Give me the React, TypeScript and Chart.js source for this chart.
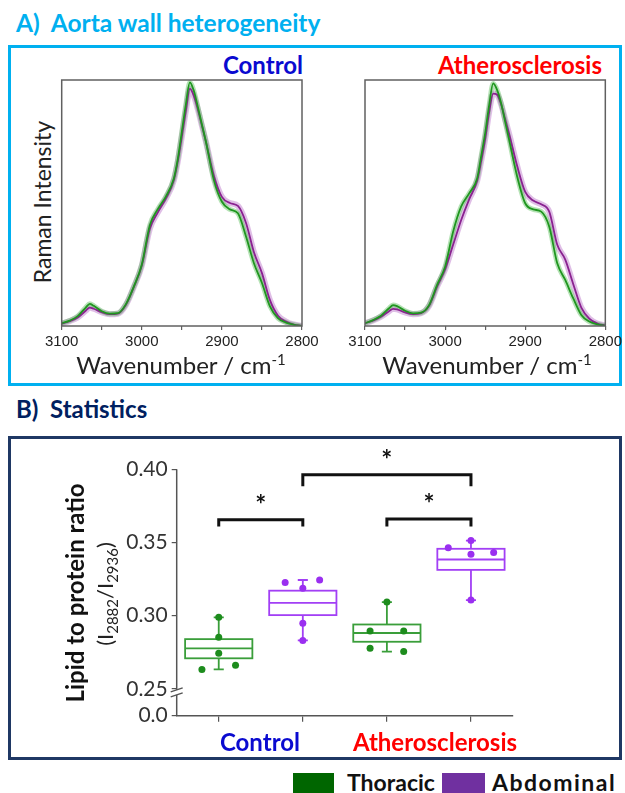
import React, { useEffect, useRef } from 'react';
import { Chart, registerables } from 'chart.js';

Chart.register(...registerables);

// ---------- Panel A: spectra ----------
const WAVENUMBERS = [3100, 3090, 3080, 3070, 3065, 3060, 3050, 3040, 3030, 3020, 3010, 3000, 2990, 2980, 2970, 2960, 2955, 2950, 2945, 2940, 2935, 2930, 2925, 2920, 2910, 2900, 2890, 2880, 2870, 2860, 2850, 2840, 2830, 2820, 2810, 2800];
const CONTROL_THORACIC = [0.011, 0.022, 0.040, 0.075, 0.090, 0.082, 0.060, 0.050, 0.052, 0.088, 0.160, 0.250, 0.410, 0.475, 0.526, 0.600, 0.680, 0.790, 0.900, 0.990, 0.955, 0.890, 0.820, 0.750, 0.593, 0.505, 0.474, 0.458, 0.365, 0.255, 0.175, 0.080, 0.032, 0.014, 0.005, 0.000];
const CONTROL_ABDOMINAL = [0.010, 0.020, 0.035, 0.062, 0.075, 0.070, 0.056, 0.048, 0.050, 0.085, 0.158, 0.245, 0.395, 0.462, 0.518, 0.592, 0.670, 0.770, 0.875, 0.965, 0.935, 0.880, 0.815, 0.750, 0.610, 0.525, 0.500, 0.488, 0.420, 0.300, 0.215, 0.105, 0.042, 0.018, 0.006, 0.001];
const ATHERO_THORACIC = [0.011, 0.024, 0.042, 0.072, 0.085, 0.081, 0.062, 0.051, 0.054, 0.085, 0.167, 0.241, 0.383, 0.485, 0.539, 0.600, 0.690, 0.783, 0.898, 0.986, 0.959, 0.905, 0.830, 0.756, 0.607, 0.499, 0.474, 0.465, 0.404, 0.255, 0.187, 0.112, 0.045, 0.018, 0.007, 0.000];
const ATHERO_ABDOMINAL = [0.011, 0.022, 0.038, 0.060, 0.070, 0.068, 0.055, 0.048, 0.052, 0.082, 0.160, 0.230, 0.330, 0.430, 0.515, 0.590, 0.670, 0.760, 0.870, 0.945, 0.940, 0.900, 0.840, 0.780, 0.650, 0.545, 0.510, 0.495, 0.465, 0.330, 0.270, 0.170, 0.075, 0.030, 0.010, 0.002];
const WN_TICKS = [3100, 3050, 3000, 2950, 2900, 2850, 2800];
const WN_TICK_LABELS = ['3100', '', '3000', '', '2900', '', '2800'];

// ---------- Panel B: box plots ----------
const GROUP_INDEX = [0, 1, 2, 3]; // Control-Thoracic, Control-Abdominal, Athero-Thoracic, Athero-Abdominal
const GROUP_TISSUE = ['Thoracic', 'Abdominal', 'Thoracic', 'Abdominal'];
const BOX_Q1 = [0.2709, 0.3004, 0.2822, 0.3313];
const BOX_MEDIAN = [0.2777, 0.3087, 0.2882, 0.3384];
const BOX_Q3 = [0.2840, 0.3171, 0.2940, 0.3457];
const WHISKER_LOW = [0.2633, 0.2831, 0.2755, 0.3107];
const WHISKER_HIGH = [0.2989, 0.3244, 0.3093, 0.3513];
const POINTS_CONTROL_THORACIC = [0.2990, 0.2853, 0.2744, 0.2633, 0.2662];
const POINTS_CONTROL_ABDOMINAL = [0.3227, 0.3187, 0.3244, 0.2949, 0.2831];
const POINTS_ATHERO_THORACIC = [0.3093, 0.2895, 0.2895, 0.2778, 0.2755];
const POINTS_ATHERO_ABDOMINAL = [0.3464, 0.3513, 0.3420, 0.3431, 0.3107];
const JITTER_CONTROL_THORACIC = [0, 0, 0, -0.2, 0.2];
const JITTER_CONTROL_ABDOMINAL = [-0.21, 0, 0.2, 0, 0];
const JITTER_ATHERO_THORACIC = [0, -0.2, 0.2, -0.2, 0.2];
const JITTER_ATHERO_ABDOMINAL = [-0.27, 0, 0, 0.27, 0];
const BRACKET_FROM = [0, 1, 2];
const BRACKET_TO = [1, 3, 3];
const BRACKET_TOP = [0.3655, 0.3962, 0.3660];
const BRACKET_BOTTOM = [0.3610, 0.3884, 0.3610];
const BRACKET_LABELS = ['*', '*', '*'];
const Y_TICKS = [0.2317, 0.25, 0.30, 0.35, 0.40];
const Y_MIN = 0.2317;
const Y_MAX = 0.4155;
const BREAK_VALUE = 0.25;

const GREEN_LINE = '#1f961f';
const PURPLE_LINE = '#8a2290';
const GREEN_BAND = 'rgba(90,190,90,0.45)';
const PURPLE_BAND = 'rgba(185,110,200,0.45)';
const BOX_GREEN = '#3a9e3a';
const BOX_PURPLE = '#a23ff5';
const PT_GREEN = '#1d8c1d';
const PT_PURPLE = '#9a2ff0';

const FONT = 'Lato, "Open Sans", sans-serif';

const framePlugin = {
  id: 'frame',
  afterDraw(chart: any) {
    const { ctx, chartArea } = chart;
    ctx.save();
    ctx.strokeStyle = '#606060';
    ctx.lineWidth = 1.5;
    ctx.strokeRect(chartArea.left, chartArea.top, chartArea.right - chartArea.left, chartArea.bottom - chartArea.top);
    ctx.restore();
  },
};

function Spectrum(props: { thoracic: number[]; abdominal: number[]; left: number; top: number; width: number; height: number; padding: any }) {
  const ref = useRef<HTMLCanvasElement>(null);
  useEffect(() => {
    const pts = (arr: number[]) => WAVENUMBERS.map((w, i) => ({ x: w, y: arr[i] }));
    const common = { pointRadius: 0, cubicInterpolationMode: 'monotone', fill: false };
    const chart = new Chart(ref.current as HTMLCanvasElement, {
      type: 'line',
      data: {
        datasets: [
          { ...common, data: pts(props.abdominal), borderColor: PURPLE_BAND, borderWidth: 6, order: 4 },
          { ...common, data: pts(props.thoracic), borderColor: GREEN_BAND, borderWidth: 5, order: 3 },
          { ...common, data: pts(props.abdominal), borderColor: PURPLE_LINE, borderWidth: 1.8, order: 2 },
          { ...common, data: pts(props.thoracic), borderColor: GREEN_LINE, borderWidth: 1.8, order: 1 },
        ] as any,
      },
      options: {
        animation: false,
        responsive: false,
        maintainAspectRatio: false,
        events: [],
        layout: { padding: props.padding },
        plugins: { legend: { display: false }, tooltip: { enabled: false } },
        scales: {
          x: {
            type: 'linear',
            reverse: true,
            min: 2800,
            max: 3100,
            afterBuildTicks: (s: any) => { s.ticks = WN_TICKS.map((v) => ({ value: v })); },
            afterFit: (s: any) => { s.height = 30; },
            ticks: {
              autoSkip: false,
              maxRotation: 0,
              padding: 3,
              color: '#222',
              font: { family: '"Liberation Sans", Arial, sans-serif', size: 15 },
              callback: (v: any) => WN_TICK_LABELS[WN_TICKS.indexOf(Number(v))] ?? '',
            },
            grid: { drawOnChartArea: false, tickLength: 4, color: '#606060', lineWidth: 1.2 },
            border: { display: false },
          },
          y: { display: false, min: 0, max: 1 },
        },
      } as any,
      plugins: [framePlugin],
    });
    return () => chart.destroy();
  }, []);
  return (
    <canvas
      ref={ref}
      width={props.width}
      height={props.height}
      style={{ position: 'absolute', left: props.left, top: props.top, width: props.width, height: props.height }}
    />
  );
}

function BoxChart() {
  const ref = useRef<HTMLCanvasElement>(null);
  useEffect(() => {
    const scatter = (vals: number[], jit: number[], g: number) => vals.map((v, i) => ({ x: GROUP_INDEX[g] + jit[i], y: v }));
    const greenPts = [...scatter(POINTS_CONTROL_THORACIC, JITTER_CONTROL_THORACIC, 0), ...scatter(POINTS_ATHERO_THORACIC, JITTER_ATHERO_THORACIC, 2)];
    const purplePts = [...scatter(POINTS_CONTROL_ABDOMINAL, JITTER_CONTROL_ABDOMINAL, 1), ...scatter(POINTS_ATHERO_ABDOMINAL, JITTER_ATHERO_ABDOMINAL, 3)];
    const brackets = BRACKET_FROM.map((f, i) => ({
      type: 'line',
      data: [
        { x: f, y: BRACKET_BOTTOM[i] },
        { x: f, y: BRACKET_TOP[i] },
        { x: BRACKET_TO[i], y: BRACKET_TOP[i] },
        { x: BRACKET_TO[i], y: BRACKET_BOTTOM[i] },
      ],
      borderColor: '#111',
      borderWidth: 3,
      pointRadius: 0,
      fill: false,
      tension: 0,
      borderJoinStyle: 'miter',
      borderCapStyle: 'butt',
    }));

    const boxPlugin = {
      id: 'boxes',
      beforeDatasetsDraw(chart: any) {
        const { ctx } = chart;
        const x = chart.scales.x;
        const y = chart.scales.y;
        ctx.save();
        GROUP_INDEX.forEach((g, i) => {
          const color = GROUP_TISSUE[i] === 'Thoracic' ? BOX_GREEN : BOX_PURPLE;
          const cx = x.getPixelForValue(g);
          const l = x.getPixelForValue(g - 0.4);
          const r = x.getPixelForValue(g + 0.4);
          const cl = x.getPixelForValue(g - 0.06);
          const cr = x.getPixelForValue(g + 0.06);
          const q1 = y.getPixelForValue(BOX_Q1[i]);
          const q3 = y.getPixelForValue(BOX_Q3[i]);
          const md = y.getPixelForValue(BOX_MEDIAN[i]);
          const lo = y.getPixelForValue(WHISKER_LOW[i]);
          const hi = y.getPixelForValue(WHISKER_HIGH[i]);
          ctx.strokeStyle = color;
          ctx.lineWidth = 1.8;
          ctx.strokeRect(l, q3, r - l, q1 - q3);
          ctx.beginPath();
          ctx.moveTo(l, md); ctx.lineTo(r, md);
          ctx.moveTo(cx, q3); ctx.lineTo(cx, hi);
          ctx.moveTo(cx, q1); ctx.lineTo(cx, lo);
          ctx.moveTo(cl, hi); ctx.lineTo(cr, hi);
          ctx.moveTo(cl, lo); ctx.lineTo(cr, lo);
          ctx.stroke();
        });
        ctx.restore();
      },
      afterDatasetsDraw(chart: any) {
        const { ctx, chartArea } = chart;
        const x = chart.scales.x;
        const y = chart.scales.y;
        ctx.save();
        // y axis line from top tick to bottom
        const ax = chartArea.left;
        ctx.strokeStyle = '#555';
        ctx.lineWidth = 1.5;
        ctx.beginPath();
        ctx.moveTo(ax, y.getPixelForValue(Y_TICKS[Y_TICKS.length - 1]));
        ctx.lineTo(ax, chartArea.bottom);
        ctx.stroke();
        // axis break
        const yb = y.getPixelForValue(BREAK_VALUE);
        ctx.fillStyle = '#fff';
        ctx.fillRect(ax - 2, yb + 1, 4, 5);
        ctx.beginPath();
        ctx.moveTo(ax - 6, yb + 3); ctx.lineTo(ax + 6, yb - 1);
        ctx.moveTo(ax - 6, yb + 8); ctx.lineTo(ax + 6, yb + 4);
        ctx.stroke();
        // significance labels
        ctx.fillStyle = '#111';
        ctx.font = 'bold 26px ' + FONT;
        ctx.textAlign = 'center';
        ctx.textBaseline = 'middle';
        BRACKET_LABELS.forEach((lab, i) => {
          const mx = x.getPixelForValue((BRACKET_FROM[i] + BRACKET_TO[i]) / 2);
          const my = y.getPixelForValue(BRACKET_TOP[i]) - 14;
          ctx.fillText(lab, mx, my);
        });
        ctx.restore();
      },
    };

    const chart = new Chart(ref.current as HTMLCanvasElement, {
      type: 'scatter',
      data: {
        datasets: [
          { data: greenPts, backgroundColor: PT_GREEN, borderColor: PT_GREEN, pointRadius: 3.5, borderWidth: 0 },
          { data: purplePts, backgroundColor: PT_PURPLE, borderColor: PT_PURPLE, pointRadius: 3.5, borderWidth: 0 },
          ...brackets,
        ] as any,
      },
      options: {
        animation: false,
        responsive: false,
        maintainAspectRatio: false,
        events: [],
        layout: { padding: { left: 116.7, right: 112, top: 10, bottom: 4.3 } },
        plugins: { legend: { display: false }, tooltip: { enabled: false } },
        scales: {
          x: {
            type: 'linear',
            min: -0.5,
            max: 3.5,
            afterBuildTicks: (s: any) => { s.ticks = GROUP_INDEX.map((v) => ({ value: v })); },
            afterFit: (s: any) => { s.height = 20; },
            ticks: { display: true, callback: () => '', font: { size: 10 } },
            grid: { drawOnChartArea: false, tickLength: 6, color: '#555', lineWidth: 1.2 },
            border: { display: true, color: '#555', width: 1.5 },
          },
          y: {
            type: 'linear',
            min: Y_MIN,
            max: Y_MAX,
            afterBuildTicks: (s: any) => { s.ticks = Y_TICKS.map((v) => ({ value: v })); },
            afterFit: (s: any) => { s.width = 60; },
            ticks: {
              padding: 4,
              color: '#333',
              font: { family: FONT, size: 21 },
              callback: (v: any) => (Number(v) < 0.24 ? '0.0' : Number(v).toFixed(2)),
            },
            grid: { drawOnChartArea: false, tickLength: 5, color: '#555', lineWidth: 1.2 },
            border: { display: false },
          },
        },
      } as any,
      plugins: [boxPlugin],
    });
    return () => chart.destroy();
  }, []);
  return (
    <canvas ref={ref} width={625} height={310} style={{ position: 'absolute', left: 0, top: 430, width: 625, height: 310 }} />
  );
}

const abs = (s: any): any => ({ position: 'absolute', whiteSpace: 'nowrap', lineHeight: 1, ...s });
const rot = (cx: number, cy: number, s: any): any => abs({ left: cx, top: cy, transform: 'translate(-50%,-50%) rotate(-90deg)', ...s });

export default function App() {
  return (
    <div style={{ position: 'absolute', left: 0, top: 0, width: 625, height: 793, overflow: 'hidden', background: '#fff', fontFamily: FONT }}>
      {/* Panel A */}
      <div style={abs({ left: 16, top: 10.5, fontSize: 24.5, fontWeight: 700, color: '#00b0f0' })}>A)&nbsp; Aorta wall heterogeneity</div>
      <div style={{ position: 'absolute', left: 8, top: 45, width: 614, height: 341, border: '3px solid #00b0f0', boxSizing: 'border-box' }} />
      <div style={abs({ right: 625 - 303, top: 52.5, fontSize: 24, fontWeight: 700, color: '#0a0ad0' })}>Control</div>
      <div style={abs({ right: 625 - 602, top: 52.5, fontSize: 24, fontWeight: 700, color: '#ff0000' })}>Atherosclerosis</div>
      <div style={rot(42, 202, { fontSize: 23, color: '#222' })}>Raman Intensity</div>
      <Spectrum thoracic={CONTROL_THORACIC} abdominal={CONTROL_ABDOMINAL} left={40} top={60} width={290} height={320} padding={{ left: 21.7, right: 28, top: 20, bottom: 24 }} />
      <Spectrum thoracic={ATHERO_THORACIC} abdominal={ATHERO_ABDOMINAL} left={345} top={60} width={280} height={320} padding={{ left: 20, right: 19.3, top: 20, bottom: 24 }} />
      <div style={abs({ left: 181, top: 364, transform: 'translate(-50%,-50%)', fontSize: 24, color: '#222' })}>Wavenumber / cm<sup style={{ fontSize: 15 }}>-1</sup></div>
      <div style={abs({ left: 487, top: 364, transform: 'translate(-50%,-50%)', fontSize: 24, color: '#222' })}>Wavenumber / cm<sup style={{ fontSize: 15 }}>-1</sup></div>

      {/* Panel B */}
      <div style={abs({ left: 16, top: 397, fontSize: 24, fontWeight: 700, color: '#002060' })}>B)&nbsp; Statistics</div>
      <div style={{ position: 'absolute', left: 8, top: 435.5, width: 614, height: 324, border: '3px solid #1f3864', boxSizing: 'border-box' }} />
      <BoxChart />
      <div style={rot(75, 593, { fontSize: 24, fontWeight: 700, color: '#111' })}>Lipid to protein ratio</div>
      <div style={rot(107, 594, { fontSize: 22, color: '#222' })}>(I<sub style={{ fontSize: 15 }}>2882</sub>/I<sub style={{ fontSize: 15 }}>2936</sub>)</div>
      <div style={abs({ left: 260, top: 742, transform: 'translate(-50%,-50%)', fontSize: 24, fontWeight: 700, color: '#0a0ad0' })}>Control</div>
      <div style={abs({ left: 435, top: 742, transform: 'translate(-50%,-50%)', fontSize: 24, fontWeight: 700, color: '#ff0000' })}>Atherosclerosis</div>

      {/* Legend */}
      <div style={{ position: 'absolute', left: 293, top: 773, width: 41, height: 20, background: '#006600' }} />
      <div style={abs({ left: 347, top: 770.5, fontSize: 23, fontWeight: 700, color: '#111' })}>Thoracic</div>
      <div style={{ position: 'absolute', left: 442, top: 773, width: 43, height: 20, background: '#7030a0' }} />
      <div style={abs({ left: 492, top: 770.5, fontSize: 23, fontWeight: 700, color: '#111', letterSpacing: 1.5 })}>Abdominal</div>
    </div>
  );
}
